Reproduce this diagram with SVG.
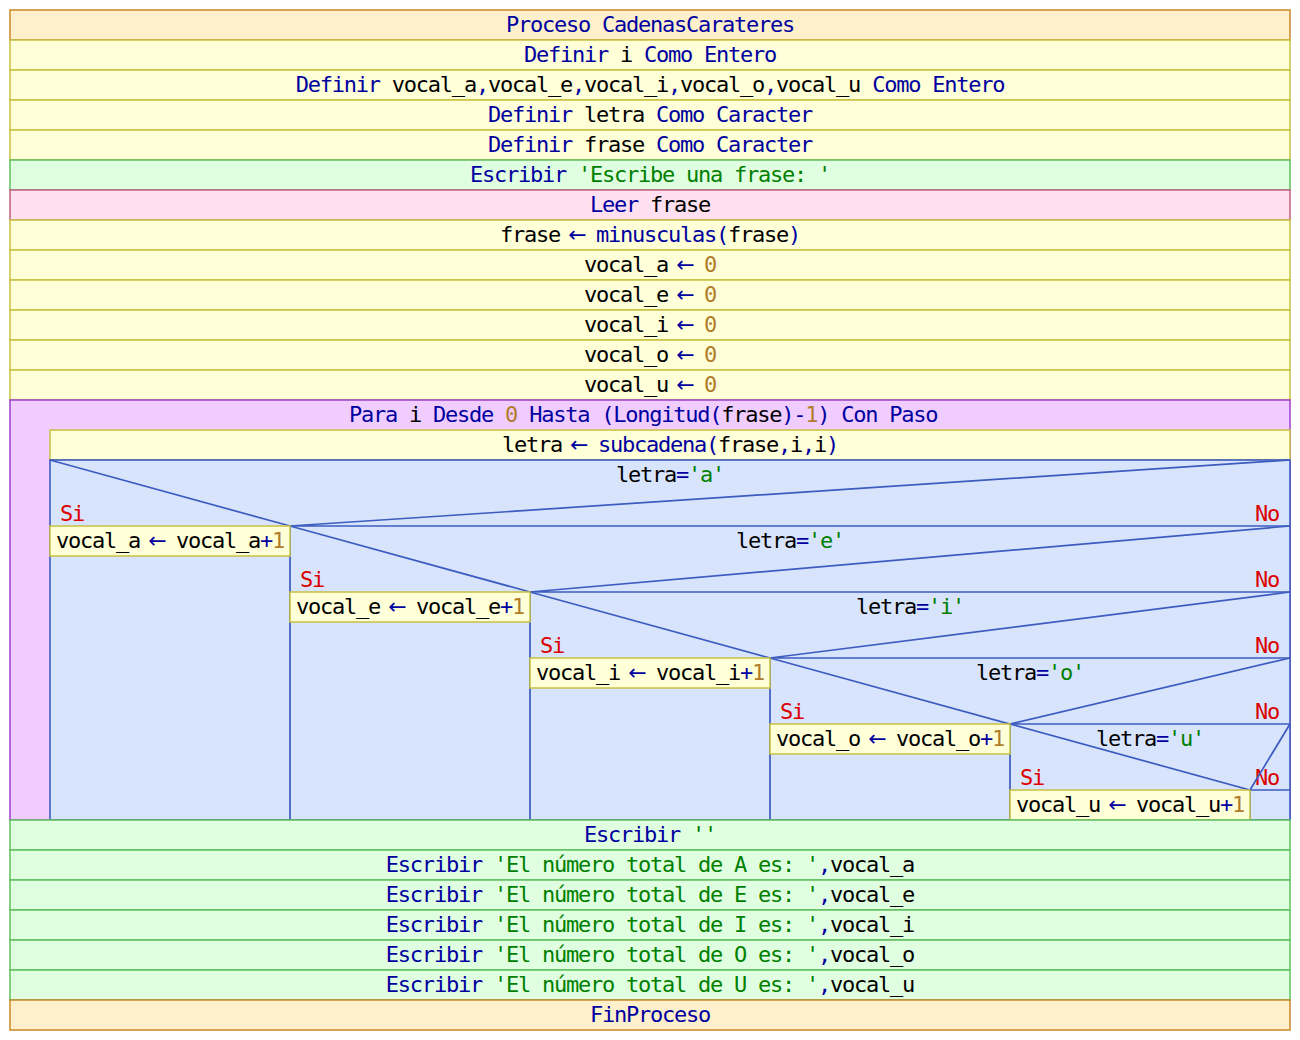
<svg xmlns="http://www.w3.org/2000/svg" width="1300" height="1040" viewBox="0 0 1300 1040">
<style>
text{font-family:"DejaVu Sans Mono","Liberation Mono",monospace;font-size:22px;letter-spacing:-1.24px;fill:#000}
.c{text-anchor:middle}
.k{fill:#0000a0}
.s{fill:#008000}
.n{fill:#b07d2b}
.r{fill:#dd0000}
.a{fill:#0000a0;font-family:"DejaVu Sans",sans-serif;font-size:22px;letter-spacing:1.19px}
.proc{fill:#fff0cc;stroke:#c8882a;stroke-width:1.5}
.yel{fill:#ffffd8;stroke:#c8c040;stroke-width:1.5}
.grn{fill:#e0ffe0;stroke:#60c060;stroke-width:1.5}
.pnk{fill:#ffe0f0;stroke:#c06080;stroke-width:1.5}
.pur{fill:#f0ccff;stroke:#9c40cc;stroke-width:1.5}
.blu{fill:#d8e4fc;stroke:#3c5cc0;stroke-width:1.6}
.ln{fill:none;stroke:#3c5cc0;stroke-width:1.7}
</style>
<rect width="1300" height="1040" fill="#fff"/>
<g id="n-proceso"><rect class="proc" x="10" y="10" width="1280" height="30"/><text class="c k" x="650" y="32">Proceso CadenasCarateres</text></g>
<g id="n-def1"><rect class="yel" x="10" y="40" width="1280" height="30"/><text class="c" x="650" y="62"><tspan class="k">Definir</tspan> i <tspan class="k">Como Entero</tspan></text></g>
<g id="n-def2"><rect class="yel" x="10" y="70" width="1280" height="30"/><text class="c" x="650" y="92"><tspan class="k">Definir</tspan> vocal_a<tspan class="k">,</tspan>vocal_e<tspan class="k">,</tspan>vocal_i<tspan class="k">,</tspan>vocal_o<tspan class="k">,</tspan>vocal_u <tspan class="k">Como Entero</tspan></text></g>
<g id="n-def3"><rect class="yel" x="10" y="100" width="1280" height="30"/><text class="c" x="650" y="122"><tspan class="k">Definir</tspan> letra <tspan class="k">Como Caracter</tspan></text></g>
<g id="n-def4"><rect class="yel" x="10" y="130" width="1280" height="30"/><text class="c" x="650" y="152"><tspan class="k">Definir</tspan> frase <tspan class="k">Como Caracter</tspan></text></g>
<g id="n-esc1"><rect class="grn" x="10" y="160" width="1280" height="30"/><text class="c" x="650" y="182"><tspan class="k">Escribir</tspan> <tspan class="s">'Escribe una frase: '</tspan></text></g>
<g id="n-leer"><rect class="pnk" x="10" y="190" width="1280" height="30"/><text class="c" x="650" y="212"><tspan class="k">Leer</tspan> frase</text></g>
<g id="n-asig1"><rect class="yel" x="10" y="220" width="1280" height="30"/><text class="c" x="650" y="242">frase<tspan class="a"> ← </tspan><tspan class="k">minusculas(</tspan>frase<tspan class="k">)</tspan></text></g>
<g id="n-va"><rect class="yel" x="10" y="250" width="1280" height="30"/><text class="c" x="650" y="272">vocal_a<tspan class="a"> ← </tspan><tspan class="n">0</tspan></text></g>
<g id="n-ve"><rect class="yel" x="10" y="280" width="1280" height="30"/><text class="c" x="650" y="302">vocal_e<tspan class="a"> ← </tspan><tspan class="n">0</tspan></text></g>
<g id="n-vi"><rect class="yel" x="10" y="310" width="1280" height="30"/><text class="c" x="650" y="332">vocal_i<tspan class="a"> ← </tspan><tspan class="n">0</tspan></text></g>
<g id="n-vo"><rect class="yel" x="10" y="340" width="1280" height="30"/><text class="c" x="650" y="362">vocal_o<tspan class="a"> ← </tspan><tspan class="n">0</tspan></text></g>
<g id="n-vu"><rect class="yel" x="10" y="370" width="1280" height="30"/><text class="c" x="650" y="392">vocal_u<tspan class="a"> ← </tspan><tspan class="n">0</tspan></text></g>
<g id="n-para"><rect class="pur" x="10" y="400" width="1280" height="420"/><text x="349" y="422"><tspan class="k">Para</tspan> i <tspan class="k">Desde</tspan> <tspan class="n">0</tspan> <tspan class="k">Hasta (Longitud(</tspan>frase<tspan class="k">)-</tspan><tspan class="n">1</tspan><tspan class="k">) Con Paso</tspan></text></g>
<g id="n-letra"><rect class="yel" x="50" y="430" width="1240" height="30"/><text class="c" x="670" y="452">letra<tspan class="a"> ← </tspan><tspan class="k">subcadena(</tspan>frase<tspan class="k">,</tspan>i<tspan class="k">,</tspan>i<tspan class="k">)</tspan></text></g>
<g id="n-if-a"><rect class="blu" x="50" y="460" width="1240" height="360"/><text class="c" x="670" y="482">letra<tspan class="k">=</tspan><tspan class="s">'a'</tspan></text><text class="r" x="60" y="521">Si</text><text class="r" x="1279" y="521" style="text-anchor:end">No</text></g>
<g id="n-if-e"><text class="c" x="790" y="548">letra<tspan class="k">=</tspan><tspan class="s">'e'</tspan></text><text class="r" x="300" y="587">Si</text><text class="r" x="1279" y="587" style="text-anchor:end">No</text></g>
<g id="n-if-i"><text class="c" x="910" y="614">letra<tspan class="k">=</tspan><tspan class="s">'i'</tspan></text><text class="r" x="540" y="653">Si</text><text class="r" x="1279" y="653" style="text-anchor:end">No</text></g>
<g id="n-if-o"><text class="c" x="1030" y="680">letra<tspan class="k">=</tspan><tspan class="s">'o'</tspan></text><text class="r" x="780" y="719">Si</text><text class="r" x="1279" y="719" style="text-anchor:end">No</text></g>
<g id="n-if-u"><text class="c" x="1150" y="746">letra<tspan class="k">=</tspan><tspan class="s">'u'</tspan></text><text class="r" x="1020" y="785">Si</text><text class="r" x="1279" y="785" style="text-anchor:end">No</text></g>
<g id="connectors">
<path class="ln" d="M50,460 L290,526 L1290,460 M290,526 H1290 M290,526 V820"/>
<path class="ln" d="M290,526 L530,592 L1290,526 M530,592 H1290 M530,592 V820"/>
<path class="ln" d="M530,592 L770,658 L1290,592 M770,658 H1290 M770,658 V820"/>
<path class="ln" d="M770,658 L1010,724 L1290,658 M1010,724 H1290 M1010,724 V820"/>
<path class="ln" d="M1010,724 L1250,790 L1290,724 M1250,790 H1290 M1250,790 V820"/>
</g>
<g id="n-inc-a"><rect class="yel" x="50" y="526" width="240" height="30"/><text x="56" y="548">vocal_a<tspan class="a"> ← </tspan>vocal_a<tspan class="k">+</tspan><tspan class="n">1</tspan></text></g>
<g id="n-inc-e"><rect class="yel" x="290" y="592" width="240" height="30"/><text x="296" y="614">vocal_e<tspan class="a"> ← </tspan>vocal_e<tspan class="k">+</tspan><tspan class="n">1</tspan></text></g>
<g id="n-inc-i"><rect class="yel" x="530" y="658" width="240" height="30"/><text x="536" y="680">vocal_i<tspan class="a"> ← </tspan>vocal_i<tspan class="k">+</tspan><tspan class="n">1</tspan></text></g>
<g id="n-inc-o"><rect class="yel" x="770" y="724" width="240" height="30"/><text x="776" y="746">vocal_o<tspan class="a"> ← </tspan>vocal_o<tspan class="k">+</tspan><tspan class="n">1</tspan></text></g>
<g id="n-inc-u"><rect class="yel" x="1010" y="790" width="240" height="30"/><text x="1016" y="812">vocal_u<tspan class="a"> ← </tspan>vocal_u<tspan class="k">+</tspan><tspan class="n">1</tspan></text></g>
<g id="n-esc2"><rect class="grn" x="10" y="820" width="1280" height="30"/><text class="c" x="650" y="842"><tspan class="k">Escribir</tspan> <tspan class="s">''</tspan></text></g>
<g id="n-esc-a"><rect class="grn" x="10" y="850" width="1280" height="30"/><text class="c" x="650" y="872"><tspan class="k">Escribir</tspan> <tspan class="s">'El número total de A es: '</tspan><tspan class="k">,</tspan>vocal_a</text></g>
<g id="n-esc-e"><rect class="grn" x="10" y="880" width="1280" height="30"/><text class="c" x="650" y="902"><tspan class="k">Escribir</tspan> <tspan class="s">'El número total de E es: '</tspan><tspan class="k">,</tspan>vocal_e</text></g>
<g id="n-esc-i"><rect class="grn" x="10" y="910" width="1280" height="30"/><text class="c" x="650" y="932"><tspan class="k">Escribir</tspan> <tspan class="s">'El número total de I es: '</tspan><tspan class="k">,</tspan>vocal_i</text></g>
<g id="n-esc-o"><rect class="grn" x="10" y="940" width="1280" height="30"/><text class="c" x="650" y="962"><tspan class="k">Escribir</tspan> <tspan class="s">'El número total de O es: '</tspan><tspan class="k">,</tspan>vocal_o</text></g>
<g id="n-esc-u"><rect class="grn" x="10" y="970" width="1280" height="30"/><text class="c" x="650" y="992"><tspan class="k">Escribir</tspan> <tspan class="s">'El número total de U es: '</tspan><tspan class="k">,</tspan>vocal_u</text></g>
<g id="n-fin"><rect class="proc" x="10" y="1000" width="1280" height="30"/><text class="c k" x="650" y="1022">FinProceso</text></g>
</svg>
